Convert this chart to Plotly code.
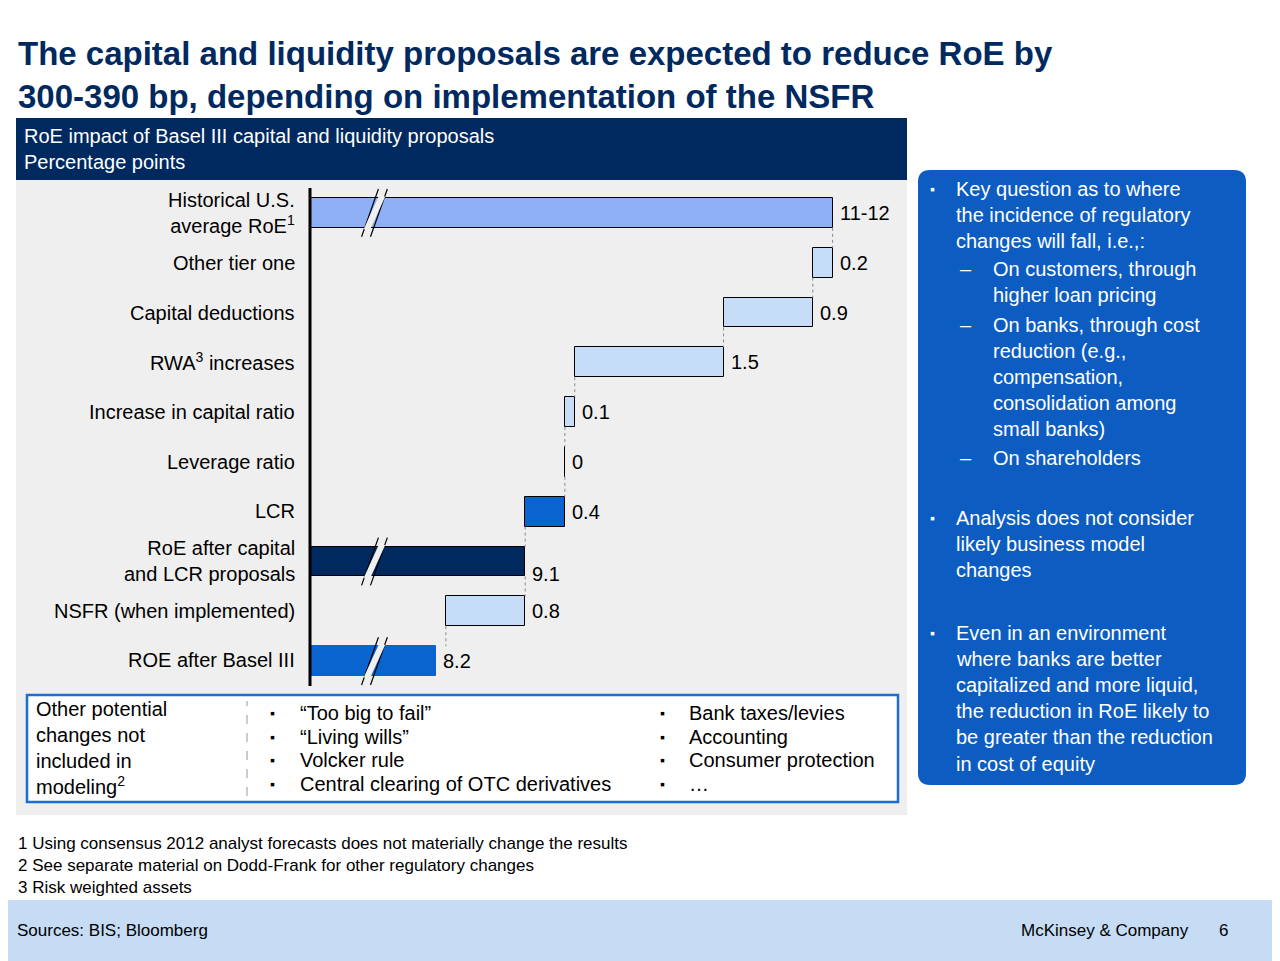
import plotly.graph_objects as go

W, H = 1280, 961
OFF = 8  # page body margin

# data
labels = ["Historical U.S.<br>average RoE<sup>1</sup>", "Other tier one", "Capital deductions",
          "RWA<sup>3</sup> increases", "Increase in capital ratio", "Leverage ratio", "LCR",
          "RoE after capital<br>and LCR proposals", "NSFR (when implemented)", "ROE after Basel III"]
values = [12.2, 0.2, 0.9, 1.5, 0.1, 0.0, 0.4, 9.1, 0.8, 8.2]
value_text = ["11-12", "0.2", "0.9", "1.5", "0.1", "0", "0.4", "9.1", "0.8", "8.2"]
kinds = ["total", "delta", "delta", "delta", "delta", "delta", "delta", "total", "delta", "total"]
colors = ["#8fb0f7", "#c6ddf8", "#c6ddf8", "#c6ddf8", "#c6ddf8", "#c6ddf8", "#0a64d0",
          "#002960", "#c6ddf8", "#0a64d0"]

X0, X1 = 6.93, 12.95

def px(x): return (x - OFF) / W
def py(y): return 1 - (y - OFF) / H

fig = go.Figure()

starts, ends = [], []
run = None
for v, k in zip(values, kinds):
    if k == "total":
        s, e = X0, v
        run = v
    else:
        s, e = run - v, run
        run = run - v
    starts.append(s); ends.append(e)

for i in range(len(values)):
    fig.add_trace(go.Bar(
        y=[i], x=[ends[i] - starts[i]], base=[starts[i]], orientation="h", width=0.6,
        marker=dict(color=colors[i], line=dict(color="#000000" if i != 9 else colors[i], width=1)),
        showlegend=False, hoverinfo="skip"))
    fig.add_annotation(x=ends[i], y=i, xref="x", yref="y", text=value_text[i], showarrow=False,
                       xanchor="left", xshift=5, yshift=-12 if i == 7 else 0,
                       font=dict(size=20, color="#000000"))

# dotted connectors
for i in range(len(values) - 1):
    xc = ends[i] if kinds[i] == "total" else starts[i]
    fig.add_trace(go.Scatter(x=[xc, xc], y=[i + 0.3, i + 0.7], mode="lines",
                             line=dict(color="#888888", width=1, dash="dot"),
                             showlegend=False, hoverinfo="skip"))

# axis break marks
for i in (0, 7, 9):
    for dx in (0, 0.09):
        fig.add_trace(go.Scatter(x=[7.45 + dx, 7.62 + dx], y=[i + 0.48, i - 0.48], mode="lines",
                                 line=dict(color="#000000", width=1.2), showlegend=False, hoverinfo="skip"))
    fig.add_trace(go.Scatter(x=[7.50, 7.66], y=[i + 0.35, i - 0.35], mode="lines",
                             line=dict(color="#f0f0f0", width=6), showlegend=False, hoverinfo="skip"))

fig.update_layout(
    width=W, height=H, margin=dict(l=0, r=0, t=0, b=0),
    paper_bgcolor="white", plot_bgcolor="rgba(0,0,0,0)", bargap=0,
    font=dict(family="Liberation Sans, Arial", color="#000000"),
    xaxis=dict(domain=[px(310), px(907)], range=[X0, X1], visible=False, fixedrange=True),
    yaxis=dict(domain=[py(686), py(188)], range=[9.5, -0.5], visible=False, fixedrange=True),
)

shapes = [
    dict(type="rect", xref="paper", yref="paper", x0=px(16), x1=px(907), y0=py(815), y1=py(180),
         fillcolor="#efefef", line=dict(width=0), layer="below"),
    dict(type="rect", xref="paper", yref="paper", x0=px(16), x1=px(907), y0=py(180), y1=py(118),
         fillcolor="#002960", line=dict(width=0)),
    dict(type="line", xref="paper", yref="paper", x0=px(310), x1=px(310), y0=py(188), y1=py(686),
         line=dict(color="#000000", width=3)),
    dict(type="rect", xref="paper", yref="paper", x0=px(27), x1=px(898), y0=py(802), y1=py(695),
         fillcolor="white", line=dict(color="#1a6fd0", width=2.5)),
    dict(type="line", xref="paper", yref="paper", x0=px(247), x1=px(247), y0=py(796), y1=py(701),
         line=dict(color="#999999", width=1, dash="dash")),
    dict(type="path", xref="paper", yref="paper",
         path=f"M {px(930)},{py(170)} L {px(1234)},{py(170)} Q {px(1246)},{py(170)} {px(1246)},{py(182)} "
              f"L {px(1246)},{py(773)} Q {px(1246)},{py(785)} {px(1234)},{py(785)} L {px(930)},{py(785)} "
              f"Q {px(918)},{py(785)} {px(918)},{py(773)} L {px(918)},{py(182)} Q {px(918)},{py(170)} {px(930)},{py(170)} Z",
         fillcolor="#0d5cc2", line=dict(width=0)),
    dict(type="rect", xref="paper", yref="paper", x0=0, x1=1, y0=0, y1=py(900),
         fillcolor="#c6dcf5", line=dict(width=0)),
]
fig.update_layout(shapes=shapes)

def text(x, y, s, size=20, color="#000000", xanchor="left", yanchor="middle", align="left", bold=False):
    if bold:
        s = f"<b>{s}</b>"
    fig.add_annotation(x=px(x), y=py(y), xref="paper", yref="paper", text=s, showarrow=False,
                       xanchor=xanchor, yanchor=yanchor, align=align, font=dict(size=size, color=color))

text(16, 75, "The capital and liquidity proposals are expected to reduce RoE by<br>300-390 bp, depending on implementation of the NSFR",
     size=33, color="#002960", bold=True)
text(22, 149, "RoE impact of Basel III capital and liquidity proposals<br>Percentage points", size=20, color="white")

row_y = [213, 263, 313, 362, 412, 462, 511, 561, 611, 660]
for lab, yy in zip(labels, row_y):
    text(297, yy, lab, xanchor="right", align="right")

# bottom box
text(34, 748, "Other potential<br>changes not<br>included in<br>modeling<sup>2</sup>")
box_lines = [713, 737, 760, 784]
for yy, a, b in zip(box_lines,
                    ["“Too big to fail”", "“Living wills”", "Volcker rule", "Central clearing of OTC derivatives"],
                    ["Bank taxes/levies", "Accounting", "Consumer protection", "…"]):
    text(268, yy, "▪", size=14)
    text(298, yy, a)
    text(658, yy, "▪", size=14)
    text(687, yy, b)

# right box
side = [
    (928, 189, "▪", 954, "Key question as to where"), (None, 215, None, 954, "the incidence of regulatory"),
    (None, 241, None, 954, "changes will fall, i.e.,:"),
    (958, 269, "–", 991, "On customers, through"), (None, 295, None, 991, "higher loan pricing"),
    (958, 325, "–", 991, "On banks, through cost"), (None, 351, None, 991, "reduction (e.g.,"),
    (None, 377, None, 991, "compensation,"), (None, 403, None, 991, "consolidation among"),
    (None, 429, None, 991, "small banks)"),
    (958, 458, "–", 991, "On shareholders"),
    (928, 518, "▪", 954, "Analysis does not consider"), (None, 544, None, 954, "likely business model"),
    (None, 570, None, 954, "changes"),
    (928, 633, "▪", 954, "Even in an environment"), (None, 659, None, 954, "where banks are better"),
    (None, 685, None, 954, "capitalized and more liquid,"), (None, 711, None, 954, "the reduction in RoE likely to"),
    (None, 737, None, 954, "be greater than the reduction"), (None, 764, None, 954, "in cost of equity"),
]
for bx, yy, bullet, tx, s in side:
    if bullet:
        text(bx, yy, bullet, size=14 if bullet == "▪" else 20, color="white")
    text(tx, yy, s, size=20, color="white")

text(16, 865, "1 Using consensus 2012 analyst forecasts does not materially change the results<br>"
     "2 See separate material on Dodd-Frank for other regulatory changes<br>3 Risk weighted assets", size=17)
text(15, 930, "Sources: BIS; Bloomberg", size=17)
text(1191, 930, "McKinsey &amp; Company", size=17, xanchor="right")
text(1230, 930, "6", size=17, xanchor="right")

fig.write_html("out.html")
